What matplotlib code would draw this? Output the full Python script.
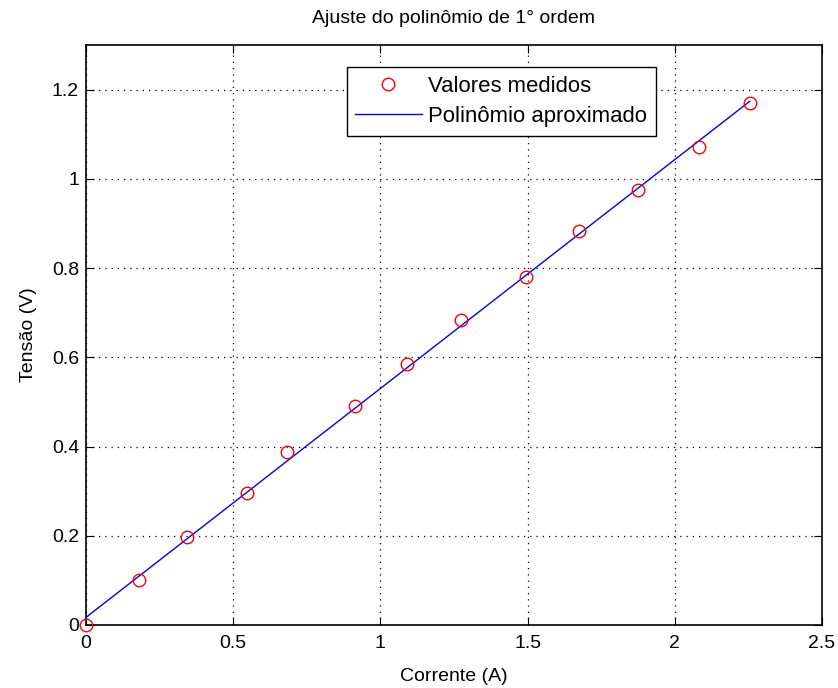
import numpy as np
import matplotlib
matplotlib.use("Agg")
import matplotlib.pyplot as plt

# Measured current (A) and voltage (V)
corrente = [0.0, 0.18, 0.343, 0.547, 0.683, 0.914, 1.09, 1.274, 1.495, 1.675, 1.875, 2.082, 2.255]
tensao = [0.0, 0.10, 0.197, 0.295, 0.387, 0.49, 0.584, 0.683, 0.781, 0.882, 0.976, 1.072, 1.169]

# First order fit
coef = np.polyfit(corrente, tensao, 1)
xs = np.linspace(0, max(corrente), 100)
ys = np.polyval(coef, xs)

plt.rcParams['font.family'] = ['Liberation Sans', 'DejaVu Sans']

fig = plt.figure(figsize=(8.38, 6.88), dpi=100)
ax = fig.add_axes([0.1026, 0.0916, 0.8783, 0.843])

ax.plot(corrente, tensao, 'o', mfc='none', mec='red', ms=9, mew=1.0,
        clip_on=False, zorder=3, label='Valores medidos')
ax.plot(xs, ys, '-', color='blue', lw=1.0, label='Polinômio aproximado')

ax.set_xlim(0, 2.5)
ax.set_ylim(0, 1.3)
ax.set_xticks([0, 0.5, 1, 1.5, 2, 2.5])
ax.set_xticklabels(['0', '0.5', '1', '1.5', '2', '2.5'])
ax.set_yticks([0, 0.2, 0.4, 0.6, 0.8, 1.0, 1.2])
ax.set_yticklabels(['0', '0.2', '0.4', '0.6', '0.8', '1', '1.2'])
ax.tick_params(direction='in', length=6, labelsize=14, top=True, right=True,
               colors='black')
ax.tick_params(axis='x', pad=7)
ax.tick_params(axis='y', pad=5)
for sp in ax.spines.values():
    sp.set_linewidth(1.2)
ax.grid(True, color='black', linestyle=(0, (1, 4)), linewidth=0.9)

ax.set_title('Ajuste do polinômio de 1° ordem', fontsize=14, pad=16)
ax.set_xlabel('Corrente (A)', fontsize=14, labelpad=12)
ax.set_ylabel('Tensão (V)', fontsize=14, labelpad=11)

leg = ax.legend(loc='upper left', bbox_to_anchor=(0.354, 0.962), fontsize=15.9,
                fancybox=False, edgecolor='black', framealpha=1, borderpad=0.4,
                handlelength=3.0, handletextpad=0.3, labelspacing=0.4,
                borderaxespad=0)
leg.get_frame().set_linewidth(1.0)

fig.savefig('out.png', dpi=100)
